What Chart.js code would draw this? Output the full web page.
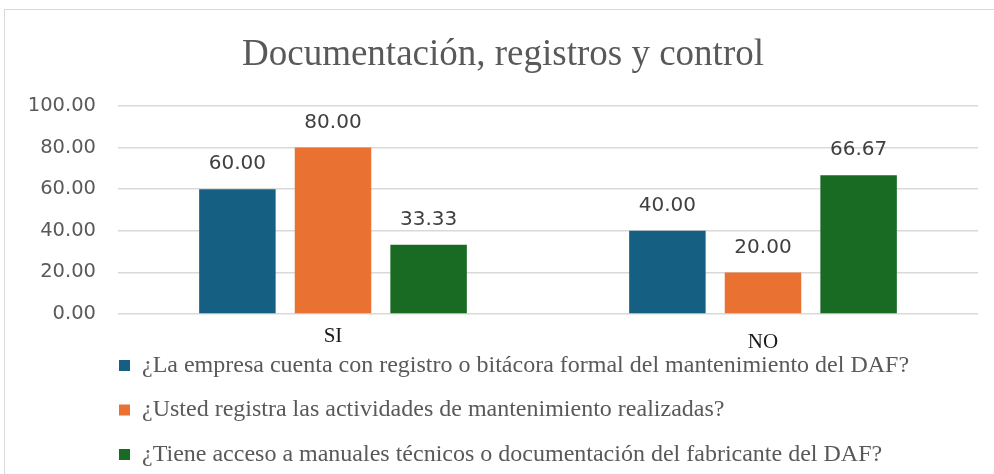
<!DOCTYPE html>
<html lang="es">
<head>
<meta charset="utf-8">
<title>Documentación, registros y control</title>
<script src="https://cdn.jsdelivr.net/npm/chart.js@4.4.1/dist/chart.umd.min.js"></script>
<style>
  html, body { margin: 0; padding: 0; background: #fff; overflow: hidden; }
  #marco { position: absolute; left: 4px; top: 9px; width: 1010px; height: 500px; border: 1px solid #d9d9d9; }
  #grafico { position: absolute; left: 0; top: 0; }
</style>
</head>
<body>
<div id="marco"></div>
<canvas id="grafico" width="994" height="474"></canvas>
<script>
// Datos
const categorias = ['SI', 'NO'];
const serieBitacora    = [60.00, 40.00];
const serieActividades = [80.00, 20.00];
const serieManuales    = [33.33, 66.67];
const nombresSeries = [
  '¿La empresa cuenta con registro o bitácora formal del mantenimiento del DAF?',
  '¿Usted registra las actividades de mantenimiento realizadas?',
  '¿Tiene acceso a manuales técnicos o documentación del fabricante del DAF?',
];
const coloresSeries = ['#156082', '#E97132', '#196B24'];

const SERIF = '"Liberation Serif", "Times New Roman", serif';
const SANS  = '"DejaVu Sans", sans-serif';

// ─── ETIQUETAS DE VALOR SOBRE LAS BARRAS ──────────────────────────────────
const etiquetasValor = {
  id: 'etiquetasValor',
  afterDatasetsDraw(chart) {
    const ctx = chart.ctx;
    ctx.save();
    ctx.font = '20px ' + SANS;
    ctx.fillStyle = '#404040';
    ctx.textAlign = 'center';
    ctx.textBaseline = 'middle';
    chart.data.datasets.forEach((ds, i) => {
      chart.getDatasetMeta(i).data.forEach((bar, j) => {
        ctx.fillText(ds.data[j].toFixed(2), bar.x, bar.y - 25);
      });
    });
    ctx.restore();
  },
};

// Leyenda en columna, pegada al borde izquierdo del área de trazado
const posicionLeyenda = {
  id: 'posicionLeyenda',
  afterLayout(chart) {
    const lg = chart.legend;
    const pad = lg.options.labels.padding;
    lg.left = chart.chartArea.left + 1 - pad;
    lg.top = chart.chartArea.bottom + 19;
  },
};

const series = [serieBitacora, serieActividades, serieManuales];

new Chart(document.getElementById('grafico'), {
  type: 'bar',
  data: {
    labels: categorias,
    datasets: series.map((data, i) => ({
      label: nombresSeries[i],
      data,
      backgroundColor: coloresSeries[i],
      borderWidth: 0,
      categoryPercentage: 0.667,
      barPercentage: 0.8,
    })),
  },
  options: {
    responsive: false,
    animation: false,
    devicePixelRatio: 1,
    layout: { padding: { left: 28, right: 16, top: 0, bottom: 0 } },
    plugins: {
      title: {
        display: true,
        text: 'Documentación, registros y control',
        color: '#595959',
        font: { family: SERIF, size: 37, weight: 'normal' },
        padding: { top: 33.5, bottom: 28 },
      },
      legend: {
        position: 'bottom',
        align: 'start',
        maxHeight: 120,
        labels: {
          color: '#595959',
          font: { family: SERIF, size: 24 },
          boxWidth: 11,
          boxHeight: 11,
          padding: 20.5,
        },
      },
      tooltip: { enabled: false },
    },
    scales: {
      x: {
        grid: { display: false },
        border: { display: false },
        ticks: {
          color: '#1a1a1a',
          padding: 2,
          font: c => ({ family: SERIF, size: 21, lineHeight: c.index === 1 ? 1.8 : 1.2 }),
        },
        afterFit: s => { s.height = 40; },
      },
      y: {
        min: 0,
        max: 100,
        grid: { color: '#d9d9d9', lineWidth: 1.5, drawTicks: false },
        border: { display: false },
        ticks: {
          stepSize: 20,
          color: '#595959',
          padding: 22,
          font: { family: SANS, size: 19.5 },
          callback: v => v.toFixed(2),
        },
        afterFit: s => { s.width = 90; },
      },
    },
  },
  plugins: [etiquetasValor, posicionLeyenda],
});
</script>
</body>
</html>
